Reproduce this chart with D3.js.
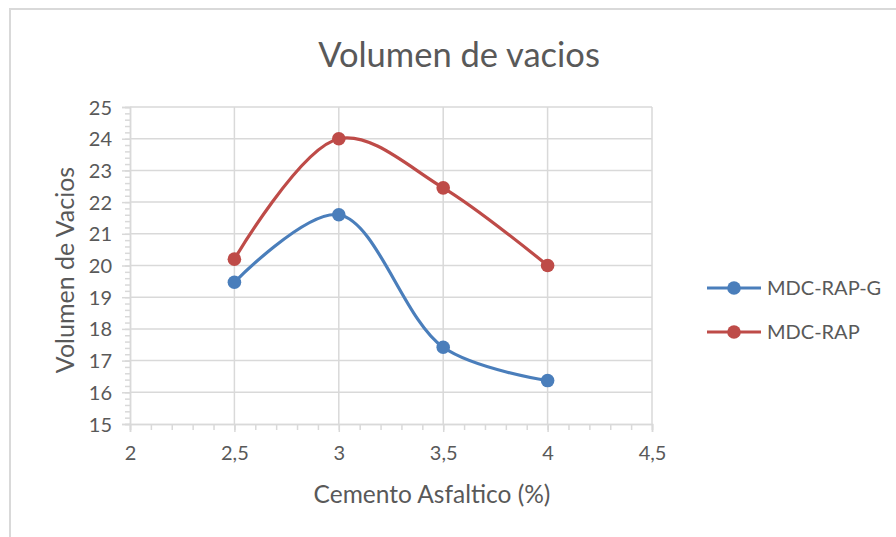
<!DOCTYPE html>
<html>
<head>
<meta charset="utf-8">
<script src="https://cdn.jsdelivr.net/npm/d3@7"></script>
<style>
  html, body { margin: 0; padding: 0; background: #fff; }
  svg { display: block; font-family: Lato, "Open Sans", sans-serif; }
</style>
</head>
<body>
<svg id="chart" width="896" height="537"></svg>
<script>
// Asphalt content (%) on the x axis
const cementoAsfaltico = [2.5, 3, 3.5, 4];
// Void volume for each mix
const mdcRapG = [19.47, 21.6, 17.42, 16.37];
const mdcRap = [20.2, 24.0, 22.45, 20.0];
const seriesNames = ["MDC-RAP-G", "MDC-RAP"];
const seriesColors = ["#4a7ebb", "#be4b48"];
const xTicks = [2, 2.5, 3, 3.5, 4, 4.5];
const yTicks = [15, 16, 17, 18, 19, 20, 21, 22, 23, 24, 25];

const svg = d3.select("#chart");
const textColor = "#595959";
const gridColor = "#d9d9d9";

// Outer chart frame
svg.append("path")
  .attr("d", "M10,537 L10,9 L896,9")
  .attr("fill", "none")
  .attr("stroke", "#d9d9d9")
  .attr("stroke-width", 2);

const plot = { left: 130, right: 652, top: 107, bottom: 424 };

const x = d3.scaleLinear().domain([2, 4.5]).range([plot.left, plot.right]);
const y = d3.scaleLinear().domain([15, 25]).range([plot.bottom, plot.top]);

// Gridlines
const grid = svg.append("g");
grid.selectAll("line.h")
  .data(yTicks.filter(v => v > 15))
  .join("line")
  .attr("x1", plot.left).attr("x2", plot.right)
  .attr("y1", d => y(d)).attr("y2", d => y(d))
  .attr("stroke", gridColor).attr("stroke-width", 1.5);
grid.selectAll("line.v")
  .data(xTicks.filter(v => v > 2))
  .join("line")
  .attr("x1", d => x(d)).attr("x2", d => x(d))
  .attr("y1", plot.top).attr("y2", plot.bottom)
  .attr("stroke", gridColor).attr("stroke-width", 1.5);

// Minor ticks
const yMinor = d3.range(15, 25.001, 0.2).map(v => +v.toFixed(1));
const xMinor = d3.range(2, 4.5001, 0.1).map(v => +v.toFixed(1));

const xAxis = svg.append("g")
  .attr("transform", `translate(0,${plot.bottom})`)
  .call(d3.axisBottom(x).tickValues(xMinor).tickSize(6).tickFormat(""));
const xAxisMajor = svg.append("g")
  .attr("transform", `translate(0,${plot.bottom})`)
  .call(d3.axisBottom(x).tickValues(xTicks).tickSize(8).tickPadding(14)
    .tickFormat(d => String(d).replace(".", ",")));

const yAxis = svg.append("g")
  .attr("transform", `translate(${plot.left},0)`)
  .call(d3.axisLeft(y).tickValues(yMinor).tickSize(5).tickFormat(""));
const yAxisMajor = svg.append("g")
  .attr("transform", `translate(${plot.left},0)`)
  .call(d3.axisLeft(y).tickValues(yTicks).tickSize(8).tickPadding(10)
    .tickFormat(d3.format("d")));

[xAxis, xAxisMajor, yAxis, yAxisMajor].forEach(g => {
  g.selectAll(".domain").attr("stroke", gridColor).attr("stroke-width", 1.5);
  g.selectAll(".tick line").attr("stroke", gridColor).attr("stroke-width", 1.5);
  g.selectAll(".tick text").attr("fill", textColor)
    .style("font-family", "Lato, 'Open Sans', sans-serif")
    .style("font-size", "20px");
});
yAxisMajor.selectAll(".tick text").attr("dy", "0.35em");

// Series lines and markers
const allSeries = [mdcRapG, mdcRap];
const line = d3.line()
  .x((d, i) => x(cementoAsfaltico[i]))
  .y(d => y(d))
  .curve(d3.curveCatmullRom.alpha(0.5));

allSeries.forEach((vals, k) => {
  svg.append("path")
    .datum(vals)
    .attr("d", line)
    .attr("fill", "none")
    .attr("stroke", seriesColors[k])
    .attr("stroke-width", 3.2)
    .attr("stroke-linecap", "round");
  svg.append("g").selectAll("circle")
    .data(vals)
    .join("circle")
    .attr("cx", (d, i) => x(cementoAsfaltico[i]))
    .attr("cy", d => y(d))
    .attr("r", 6.8)
    .attr("fill", seriesColors[k]);
});

// Title
svg.append("text")
  .attr("x", 459).attr("y", 67)
  .attr("text-anchor", "middle")
  .attr("fill", textColor)
  .style("font-size", "34.5px")
  .text("Volumen de vacios");

// Axis titles
svg.append("text")
  .attr("x", 432).attr("y", 503)
  .attr("text-anchor", "middle")
  .attr("fill", textColor)
  .style("font-size", "24.5px")
  .text("Cemento Asfaltico (%)");

svg.append("text")
  .attr("transform", "translate(74,270) rotate(-90)")
  .attr("text-anchor", "middle")
  .attr("fill", textColor)
  .style("font-size", "25px")
  .text("Volumen de Vacios");

// Legend
const legend = svg.append("g");
seriesNames.forEach((name, k) => {
  const ly = 288 + k * 44;
  legend.append("line")
    .attr("x1", 707).attr("x2", 761)
    .attr("y1", ly).attr("y2", ly)
    .attr("stroke", seriesColors[k]).attr("stroke-width", 3.2);
  legend.append("circle")
    .attr("cx", 734).attr("cy", ly).attr("r", 6.8)
    .attr("fill", seriesColors[k]);
  legend.append("text")
    .attr("x", 767).attr("y", ly)
    .attr("dy", "0.35em")
    .attr("fill", textColor)
    .style("font-size", "20px")
    .text(name);
});
</script>
</body>
</html>
